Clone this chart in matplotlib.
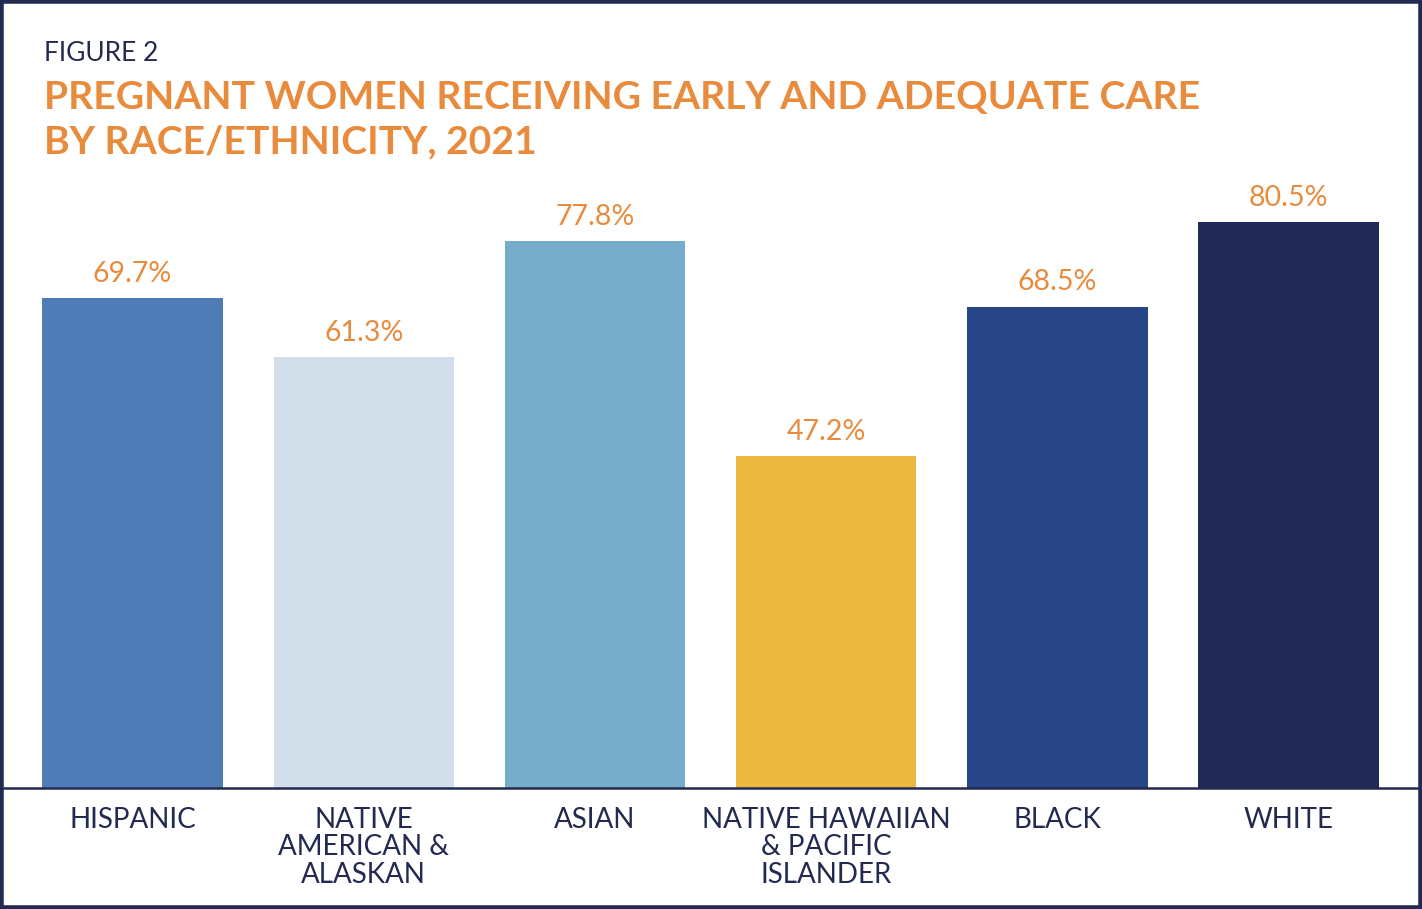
import matplotlib
matplotlib.use("Agg")
import matplotlib.pyplot as plt
from matplotlib.patches import Rectangle

categories = ["HISPANIC", "NATIVE\nAMERICAN &\nALASKAN", "ASIAN",
              "NATIVE HAWAIIAN\n& PACIFIC\nISLANDER", "BLACK", "WHITE"]
values = [69.7, 61.3, 77.8, 47.2, 68.5, 80.5]
bar_colors = ["#4F7BB6", "#D2DFEB", "#75ACCA", "#EDB840", "#284588", "#212A56"]

ORANGE = "#E98B3D"
NAVY = "#232A50"

fig = plt.figure(figsize=(14.22, 9.09), dpi=100)
fig.patch.set_facecolor("white")

H = 909.0
W = 1422.0
ax_bottom = 788.0
ax_top = 180.0
ax = fig.add_axes([0, (H - ax_bottom) / H, 1, (ax_bottom - ax_top) / H])

x = list(range(len(values)))
ax.bar(x, values, width=0.78, color=bar_colors, zorder=2)
ax.set_xlim(-0.573, 5.577)
ax.set_ylim(0, 86.5)

for xi, v in zip(x, values):
    ax.text(xi, v + 1.6, f"{v:.1f}%", ha="center", va="bottom",
            color=ORANGE, fontsize=20.5, family="Lato")

for s in ["top", "left", "right"]:
    ax.spines[s].set_visible(False)
ax.spines["bottom"].set_color(NAVY)
ax.spines["bottom"].set_linewidth(1.8)
ax.set_yticks([])
ax.set_xticks(x)
ax.set_xticklabels(categories, fontsize=20, color=NAVY, family="Lato",
                   linespacing=1.05)
ax.tick_params(axis="x", length=0, pad=14)

fig.text(44 / W, 1 - 41 / H, "FIGURE 2", ha="left", va="top",
         fontsize=19, color=NAVY, family="Lato")
fig.text(44 / W, 1 - 80 / H,
         "PREGNANT WOMEN RECEIVING EARLY AND ADEQUATE CARE\nBY RACE/ETHNICITY, 2021",
         ha="left", va="top", fontsize=28.2, color=ORANGE, family="Lato",
         fontweight="bold", linespacing=1.31)

fig.patches.append(Rectangle((0.001, 0.0015), 0.998, 0.997, transform=fig.transFigure,
                             fill=False, edgecolor=NAVY, linewidth=4, zorder=10))

fig.savefig("out.png", dpi=100, facecolor="white")
